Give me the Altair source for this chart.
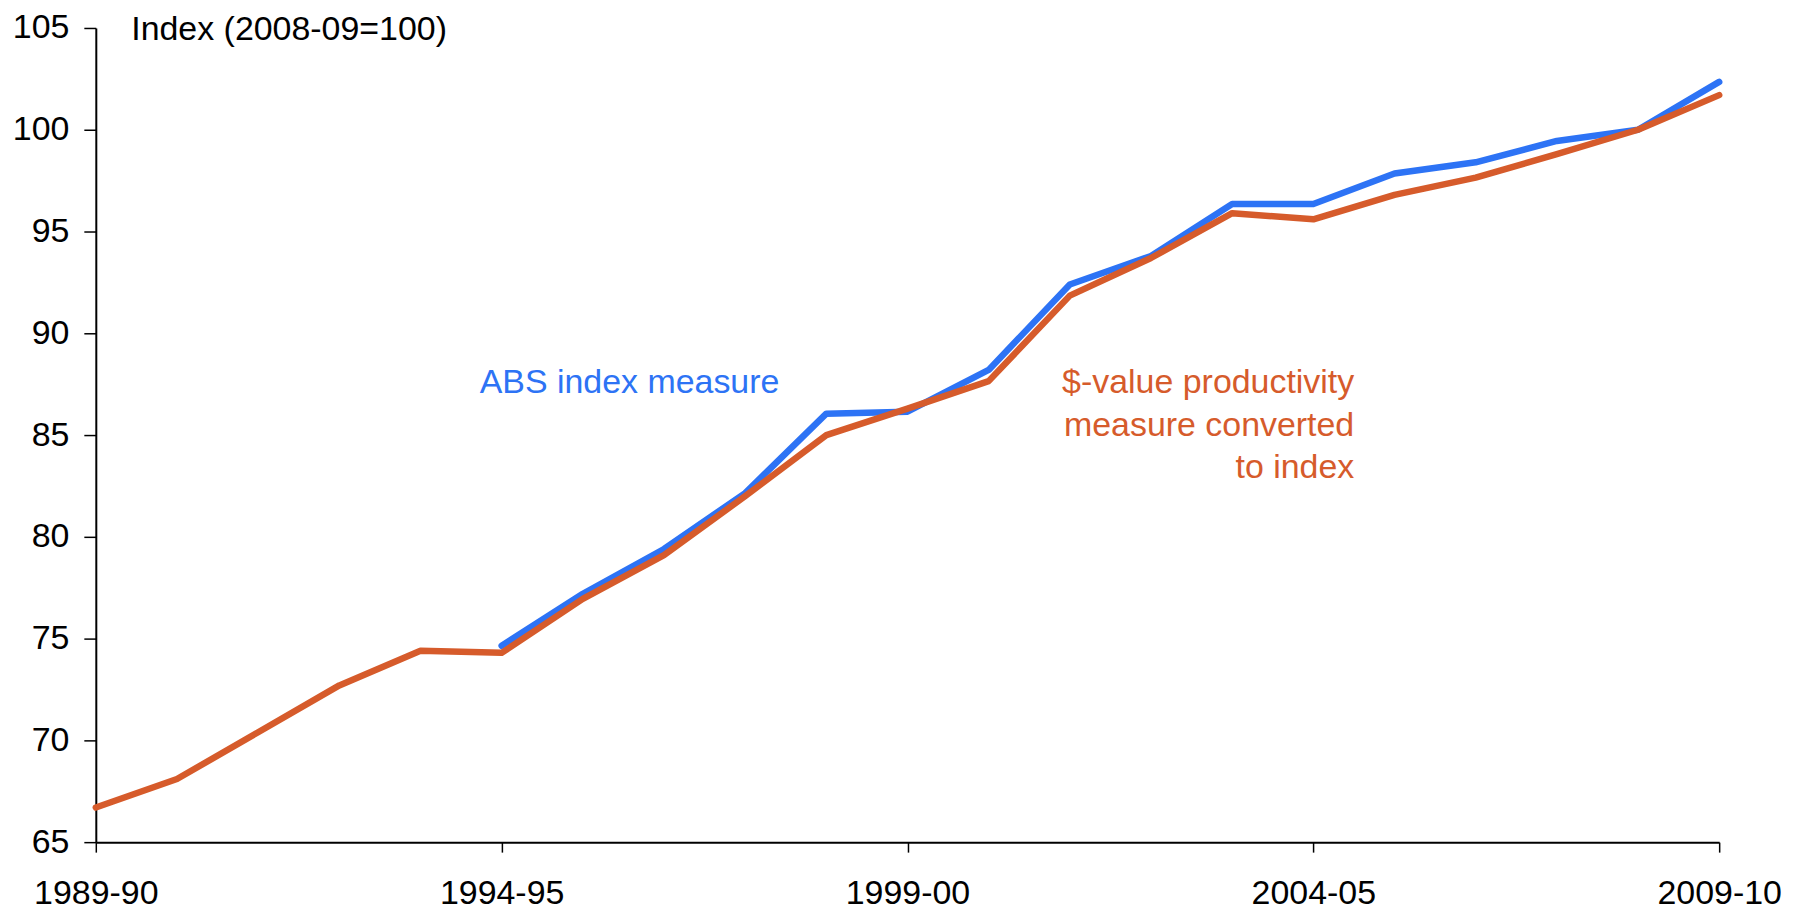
import altair as alt
import pandas as pd

years = ["1989-90", "1990-91", "1991-92", "1992-93", "1993-94", "1994-95",
         "1995-96", "1996-97", "1997-98", "1998-99", "1999-00", "2000-01",
         "2001-02", "2002-03", "2003-04", "2004-05", "2005-06", "2006-07",
         "2007-08", "2008-09", "2009-10"]

dollar_value = [66.7, 68.1, 70.4, 72.7, 74.4, 74.3, 76.95, 79.1, 82.0, 85.0,
                86.3, 87.65, 91.85, 93.7, 95.9, 95.6, 96.8, 97.65, 98.8, 100.0, 101.7]

abs_index = [None, None, None, None, None, 74.65, 77.2, 79.4, 82.15, 86.05,
             86.15, 88.2, 92.4, 93.8, 96.35, 96.35, 97.85, 98.4, 99.45, 100.0, 102.35]

tick_labels = ["1989-90", "1994-95", "1999-00", "2004-05", "2009-10"]
y_ticks = [65, 70, 75, 80, 85, 90, 95, 100, 105]

BLUE = "#2D73F5"
ORANGE = "#D65B2B"
FONT = "Liberation Sans"
FS = 34

rows = []
for y, v in zip(years, abs_index):
    if v is not None:
        rows.append({"year": y, "value": v, "series": "ABS"})
for y, v in zip(years, dollar_value):
    rows.append({"year": y, "value": v, "series": "Dollar"})
df = pd.DataFrame(rows)

x_enc = alt.X("year:O", sort=years,
              scale=alt.Scale(type="point", padding=0, domain=years),
              axis=alt.Axis(values=tick_labels, labelAngle=0, title=None,
                            domainColor="black", domainWidth=2,
                            tickColor="black", tickWidth=1.5, tickSize=10,
                            labelFont=FONT, labelFontSize=FS, labelColor="black",
                            labelPadding=24, grid=False))

y_enc = alt.Y("value:Q",
              scale=alt.Scale(domain=[65, 105], nice=False, zero=False),
              axis=alt.Axis(values=y_ticks, title="Index (2008-09=100)",
                            titleAngle=0, titleAlign="left", titleBaseline="middle",
                            titleX=35, titleY=2, titleFont=FONT, titleFontSize=FS,
                            titleFontWeight="normal", titleColor="black",
                            domainColor="black", domainWidth=2,
                            tickColor="black", tickWidth=1.5, tickSize=12,
                            labelFont=FONT, labelFontSize=FS, labelColor="black",
                            labelPadding=15, grid=False))

lines = alt.Chart(df).mark_line(strokeWidth=6.5, strokeCap="round", strokeJoin="round").encode(
    x=x_enc,
    y=y_enc,
    color=alt.Color("series:N", scale=alt.Scale(domain=["ABS", "Dollar"], range=[BLUE, ORANGE]),
                    legend=None),
    order=alt.Order("series:N", sort="ascending"),
)

ann_abs = pd.DataFrame({"year": ["1994-95"], "value": [87.55], "label": ["ABS index measure"]})
ann_dol = pd.DataFrame({"year": ["2004-05"], "value": [87.55]})

t_abs = alt.Chart(ann_abs).mark_text(
    align="left", baseline="middle", dx=-22, font=FONT, fontSize=FS, color=BLUE
).encode(x=alt.X("year:O", sort=years), y="value:Q", text="label:N")

t_dol = alt.Chart(ann_dol).mark_text(
    align="right", baseline="middle", dx=41, font=FONT, fontSize=FS, color=ORANGE,
    lineHeight=42.5,
    text=["$-value productivity", "measure converted", "to index"]
).encode(x=alt.X("year:O", sort=years), y="value:Q")

chart = alt.layer(lines, t_abs, t_dol).properties(
    width=1627, height=816,
    autosize=alt.AutoSizeParams(type="none"),
    padding={"left": 88, "top": 19, "right": 76, "bottom": 72},
).configure(background="white").configure_view(stroke=None)

chart.save("out.html", embed_options={"renderer": "svg", "actions": False})
